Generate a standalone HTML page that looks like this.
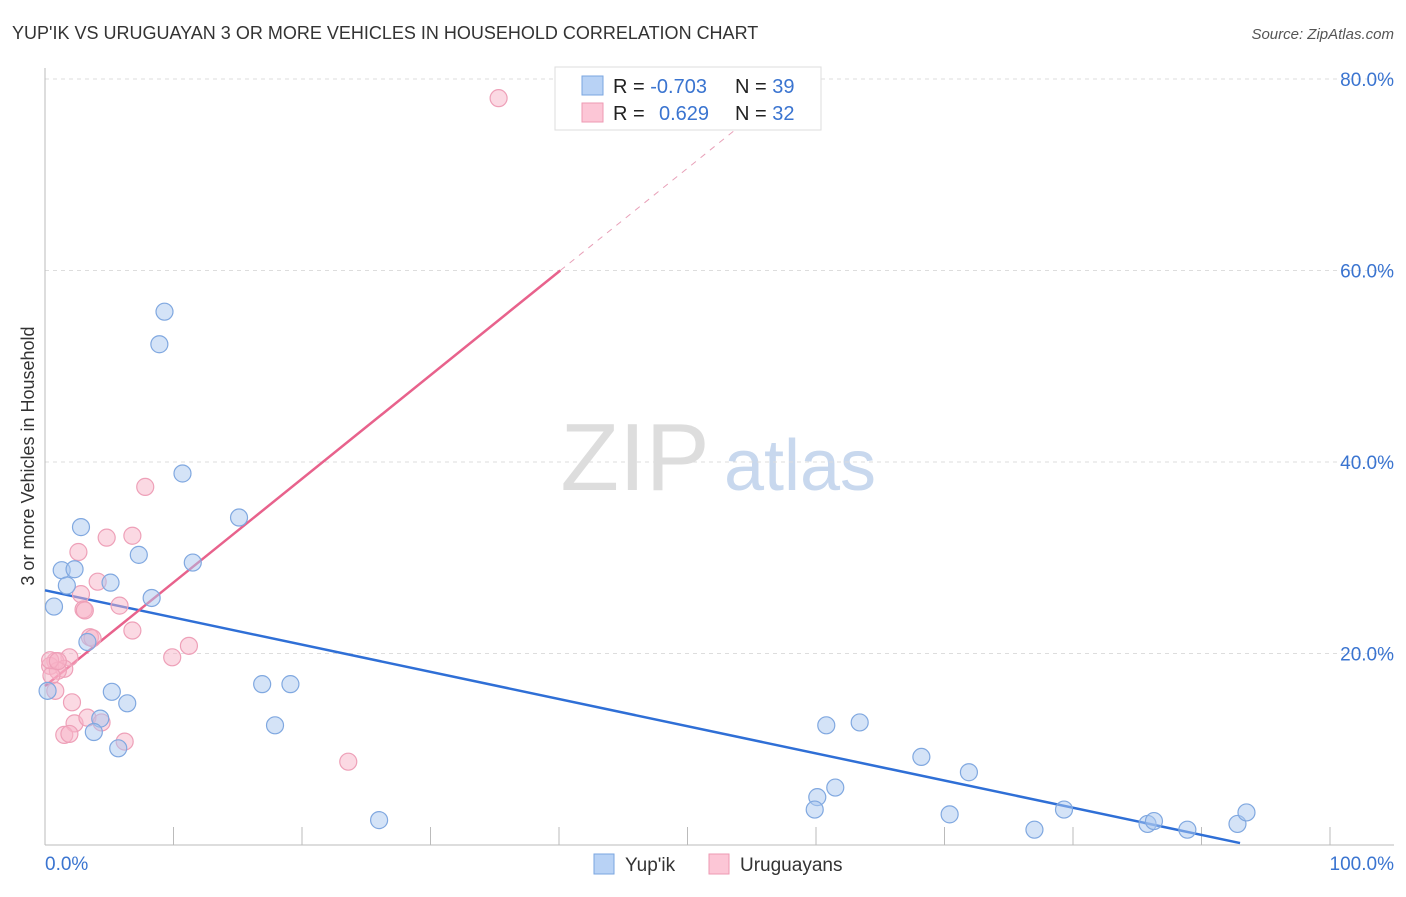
<!DOCTYPE html>
<html><head><meta charset="utf-8"><style>
body{margin:0;background:#fff;font-family:"Liberation Sans",sans-serif;}
svg text{font-family:"Liberation Sans",sans-serif;}
</style></head><body>
<svg id="chart" width="1406" height="892">
<text x="12" y="39" font-size="18" fill="#333">YUP'IK VS URUGUAYAN 3 OR MORE VEHICLES IN HOUSEHOLD CORRELATION CHART</text>
<text x="1394" y="39" font-size="15" fill="#555" font-style="italic" text-anchor="end">Source: ZipAtlas.com</text>
<text x="34" y="456" font-size="18" fill="#333" text-anchor="middle" transform="rotate(-90 34 456)">3 or more Vehicles in Household</text>
<g><text x="635" y="490" font-size="96" fill="#ddd" font-family="Liberation Serif" text-anchor="middle">ZIP</text><text x="800" y="490" font-size="72" fill="#c8d8ee" text-anchor="middle">atlas</text></g>
<g id="grid"></g><g id="axes"></g><g id="lines"></g><g id="pts"></g>
<g>
<rect x="555" y="67" width="266" height="63" fill="#fff" stroke="#ddd"/>
<rect x="582" y="76" width="21" height="19" fill="#b8d2f5" stroke="#7aa6e0"/>
<rect x="582" y="103" width="21" height="19" fill="#fcc6d6" stroke="#ee99b3"/>
<text x="613" y="93" font-size="20" fill="#222">R = <tspan fill="#3a74d0">-0.703</tspan><tspan x="735">N = </tspan><tspan fill="#3a74d0">39</tspan></text>
<text x="613" y="120" font-size="20" fill="#222">R = <tspan x="659" fill="#3a74d0">0.629</tspan><tspan x="735">N = </tspan><tspan fill="#3a74d0">32</tspan></text>
</g>
<g>
<rect x="594" y="854" width="20" height="20" fill="#b8d2f5" stroke="#7aa6e0"/>
<text x="625" y="871" font-size="19" fill="#333">Yup'ik</text>
<rect x="709" y="854" width="20" height="20" fill="#fcc6d6" stroke="#ee99b3"/>
<text x="740" y="871" font-size="19" fill="#333">Uruguayans</text>
</g>
</svg>
<script>
const yTicks=[20,40,60,80];
const yTickLabels=["20.0%","40.0%","60.0%","80.0%"];
const xTickLabels=["0.0%","100.0%"];
const yupikX=[9.3,8.9,10.7,15.1,2.8,7.3,11.5,1.3,2.3,5.1,1.7,8.3,0.7,3.3,0.2,5.2,6.4,4.3,3.8,5.7,16.9,19.1,17.9,26.0,60.8,63.4,68.2,71.9,61.5,60.1,59.9,70.4,77.0,79.3,85.8,86.3,88.9,92.8,93.5];
const yupikY=[55.7,52.3,38.8,34.2,33.2,30.3,29.5,28.7,28.8,27.4,27.1,25.8,24.9,21.2,16.1,16.0,14.8,13.2,11.8,10.1,16.8,16.8,12.5,2.6,12.5,12.8,9.2,7.6,6.0,5.0,3.7,3.2,1.6,3.7,2.2,2.5,1.6,2.2,3.4];
const uruX=[35.3,7.8,6.8,4.8,2.6,4.1,2.8,5.8,3.0,3.1,6.8,3.5,3.7,11.2,9.9,1.9,0.8,0.4,1.5,1.0,0.5,0.8,2.1,2.3,3.3,4.4,1.5,1.9,6.2,23.6,0.4,1.0];
const uruY=[78.0,37.4,32.3,32.1,30.6,27.5,26.2,25.0,24.6,24.5,22.4,21.7,21.6,20.8,19.6,19.6,19.2,18.7,18.4,18.2,17.7,16.1,14.9,12.7,13.3,12.8,11.5,11.6,10.8,8.7,19.3,19.2];
const blueLine=[[0,26.6],[93,0.2]];
const pinkLine=[[0,16.6],[40.1,60]];
const pinkDash=[[40.1,60],[54,75]];
const X=v=>45+v*12.85, Y=v=>845-v*9.575;
const NS="http://www.w3.org/2000/svg";
function mk(tag,attrs,parent){const e=document.createElementNS(NS,tag);for(const k in attrs)e.setAttribute(k,attrs[k]);document.getElementById(parent).appendChild(e);return e;}
yTicks.forEach((t,i)=>{
 const g=mk('line',{x1:45,x2:1394,y1:Y(t),y2:Y(t),stroke:'#ddd','stroke-dasharray':'4,4'},'grid');
 
 
 const l=mk('text',{x:1394,y:Y(t)+7,'font-size':19,fill:'#3a74d0','text-anchor':'end'},'grid');
 l.textContent=yTickLabels[i];
 
 
});
const ax=mk('line',{x1:45,x2:45,y1:68,y2:845,stroke:'#bbb'},'axes');


const xa=mk('line',{x1:45,x2:1394,y1:845,y2:845,stroke:'#bbb'},'axes');


for(let i=1;i<=10;i++){const t=mk('line',{x1:X(i*10),x2:X(i*10),y1:827,y2:845,stroke:'#bbb'},'axes');
 
 }
[[0,'start',45],[100,'end',1394]].forEach((d,i)=>{const l=mk('text',{x:d[2],y:870,'font-size':19,fill:'#3a74d0','text-anchor':d[1]},'axes');l.textContent=xTickLabels[i];
 
 });
function ln(p,c,w,dash,name){const a={x1:X(p[0][0]),y1:Y(p[0][1]),x2:X(p[1][0]),y2:Y(p[1][1]),stroke:c,'stroke-width':w};if(dash)a['stroke-dasharray']=dash;const e=mk('line',a,'lines');
 
 }
ln(blueLine,'#2f6fd6',2.5,null,'yupik-trend-line');
ln(pinkLine,'#e8628c',2.5,null,'uruguayans-trend-line');
ln(pinkDash,'#e8a0b8',1,'6,6','uruguayans-trend-extension');
uruX.forEach((x,i)=>{const c=mk('circle',{cx:X(x),cy:Y(uruY[i]),r:8.5,fill:'rgba(248,180,200,0.5)',stroke:'#eea0b8','stroke-width':1.2},'pts');
 
 });
yupikX.forEach((x,i)=>{const c=mk('circle',{cx:X(x),cy:Y(yupikY[i]),r:8.5,fill:'rgba(170,200,240,0.5)',stroke:'#80a8e0','stroke-width':1.2},'pts');
 
 });
</script>
</body></html>
